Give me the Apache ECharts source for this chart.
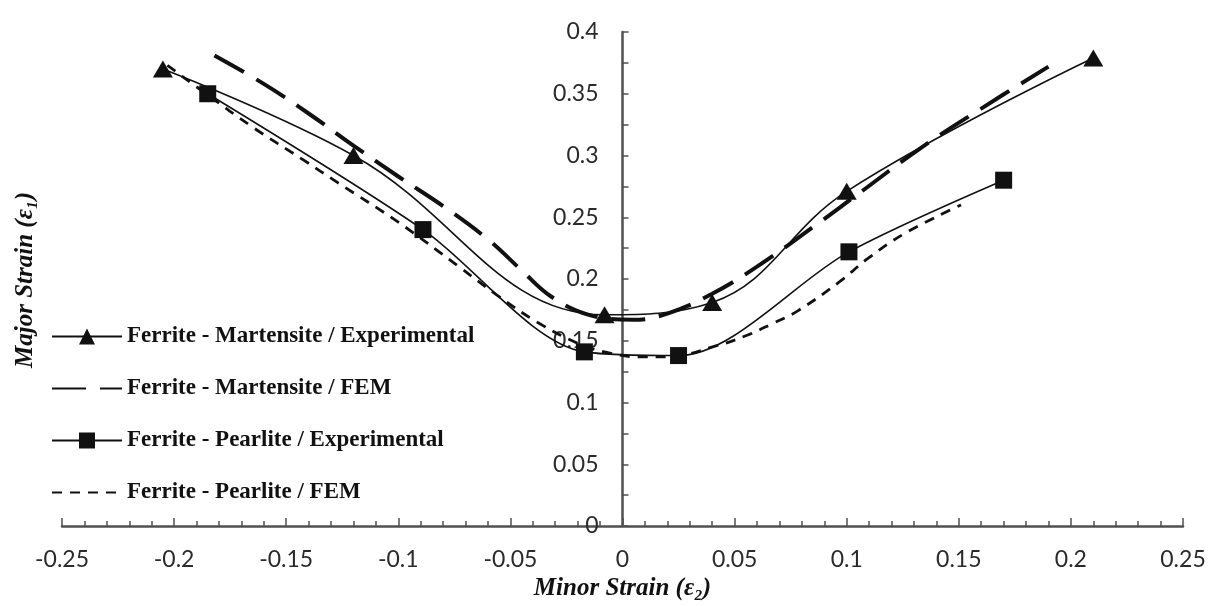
<!DOCTYPE html>
<html>
<head>
<meta charset="utf-8">
<title>Forming limit curves</title>
<script src="https://cdn.jsdelivr.net/npm/echarts@6/dist/echarts.min.js"></script>
<style>
    html,body{
        margin:0;
        padding:0;
        background:#fff;
    }
    #chart{
        width:1215px;
        height:606px;
    }
</style>
</head>
<body>
<div id="chart"></div>
<script>
// tick labels
const xTicks = [-0.25, -0.2, -0.15, -0.1, -0.05, 0, 0.05, 0.1, 0.15, 0.2, 0.25]
const yTicks = [0, 0.05, 0.1, 0.15, 0.2, 0.25, 0.3, 0.35, 0.4]

// series names
const names = [
    'Ferrite - Martensite / Experimental',
    'Ferrite - Martensite / FEM',
    'Ferrite - Pearlite / Experimental',
    'Ferrite - Pearlite / FEM'
]

// [minor strain, major strain]
const martExp = [
    [-0.205, 0.370], [-0.120, 0.300], [-0.008, 0.171],
    [0.040, 0.181], [0.100, 0.271], [0.210, 0.379]
]
const martFem = [
    [-0.182, 0.381], [-0.160, 0.358], [-0.140, 0.334], [-0.120, 0.308],
    [-0.100, 0.283], [-0.080, 0.259], [-0.060, 0.232], [-0.045, 0.207],
    [-0.032, 0.186], [-0.015, 0.171], [0.005, 0.167], [0.020, 0.172],
    [0.040, 0.188], [0.060, 0.210], [0.088, 0.246], [0.103, 0.266],
    [0.133, 0.306], [0.160, 0.338], [0.190, 0.372]
]
const pearExp = [
    [-0.185, 0.350], [-0.089, 0.240], [-0.017, 0.141],
    [0.025, 0.138], [0.101, 0.222], [0.170, 0.280]
]
const pearFem = [
    [-0.203, 0.373], [-0.185, 0.349], [-0.165, 0.323], [-0.142, 0.296],
    [-0.127, 0.278], [-0.100, 0.246], [-0.073, 0.210], [-0.056, 0.187],
    [-0.038, 0.165], [-0.020, 0.148], [-0.008, 0.141], [0.007, 0.137],
    [0.020, 0.137], [0.042, 0.146], [0.055, 0.154], [0.067, 0.164],
    [0.078, 0.174], [0.097, 0.198], [0.109, 0.216], [0.126, 0.237],
    [0.151, 0.260]
]

const ink = '#111'
const axisGrey = '#505050'
const serif = '"Liberation Serif", "DejaVu Serif", serif'
const sans = 'Lato, "Open Sans", "Liberation Sans", sans-serif'

const gridLeft = 62
const gridRight = 32
const plotWidth = 1215 - gridLeft - gridRight
// y axis sits at minor strain = 0
const yAxisShift = plotWidth * (0 - xTicks[0]) / (xTicks[xTicks.length-1] - xTicks[0])

const myCharts = echarts.init(document.getElementById('chart'), null, {renderer:'canvas'})

myCharts.setOption({
    animation:false,
    backgroundColor:'#fff',
    grid:{
        left:gridLeft,
        right:gridRight,
        top:32,
        bottom:78,
        containLabel:false
    },
    legend:{
        orient:'vertical',
        left:46,
        top:320,
        itemWidth:70,
        itemHeight:20,
        itemGap:29,
        data:[
            {name:names[0]},
            {name:names[1],itemStyle:{opacity:0}},
            {name:names[2]},
            {name:names[3],itemStyle:{opacity:0}}
        ],
        textStyle:{
            fontFamily:serif,
            fontSize:23,
            fontWeight:'bold',
            color:ink
        }
    },
    xAxis:{
        type:'value',
        min:xTicks[0],
        max:xTicks[xTicks.length-1],
        interval:0.05,
        splitLine:{show:false},
        axisLine:{lineStyle:{color:axisGrey,width:2.5}},
        axisTick:{inside:true,length:8,lineStyle:{color:axisGrey,width:1.5}},
        minorTick:{show:true,splitNumber:5,length:5,lineStyle:{color:axisGrey,width:1.5}},
        axisLabel:{
            margin:22,
            fontFamily:sans,
            fontSize:23,
            color:'#2a2a2a',
            formatter:v=>String(+v.toFixed(2))
        },
        name:'Minor Strain (ε₂)',
        nameLocation:'middle',
        nameGap:50,
        nameTextStyle:{
            fontFamily:serif,
            fontSize:25,
            fontStyle:'italic',
            fontWeight:'bold',
            color:ink
        }
    },
    yAxis:{
        type:'value',
        position:'left',
        offset:-yAxisShift,
        min:yTicks[0],
        max:yTicks[yTicks.length-1],
        interval:0.05,
        splitLine:{show:false},
        axisLine:{onZero:false,lineStyle:{color:axisGrey,width:2.5}},
        axisTick:{inside:true,length:6,lineStyle:{color:axisGrey,width:1.5}},
        minorTick:{show:true,splitNumber:2,length:6,lineStyle:{color:axisGrey,width:1.5}},
        axisLabel:{
            margin:24,
            fontFamily:sans,
            fontSize:23,
            color:'#2a2a2a',
            formatter:v=>String(+v.toFixed(2))
        }
    },
    graphic:[
        {
            type:'text',
            x:26,
            y:280,
            rotation:Math.PI/2,
            style:{
                text:'Major Strain (ε₁)',
                font:'italic bold 25px ' + serif,
                fill:ink,
                align:'center',
                verticalAlign:'middle'
            }
        }
    ],
    series:[
        {
            name:names[0],
            type:'line',
            data:martExp,
            smooth:0.4,
            symbol:'triangle',
            symbolSize:[20,17],
            itemStyle:{color:ink},
            lineStyle:{color:ink,width:1.6},
            z:4
        },
        {
            name:names[1],
            type:'line',
            data:martFem,
            smooth:0.4,
            symbol:'none',
            itemStyle:{color:ink},
            lineStyle:{color:ink,width:4,type:[34,14]},
            z:3
        },
        {
            name:names[2],
            type:'line',
            data:pearExp,
            smooth:0.3,
            symbol:'rect',
            symbolSize:17,
            itemStyle:{color:ink},
            lineStyle:{color:ink,width:1.6},
            z:4
        },
        {
            name:names[3],
            type:'line',
            data:pearFem,
            smooth:0.4,
            symbol:'none',
            itemStyle:{color:ink},
            lineStyle:{color:ink,width:2.8,type:[10,8]},
            z:3
        }
    ]
})
</script>
</body>
</html>
